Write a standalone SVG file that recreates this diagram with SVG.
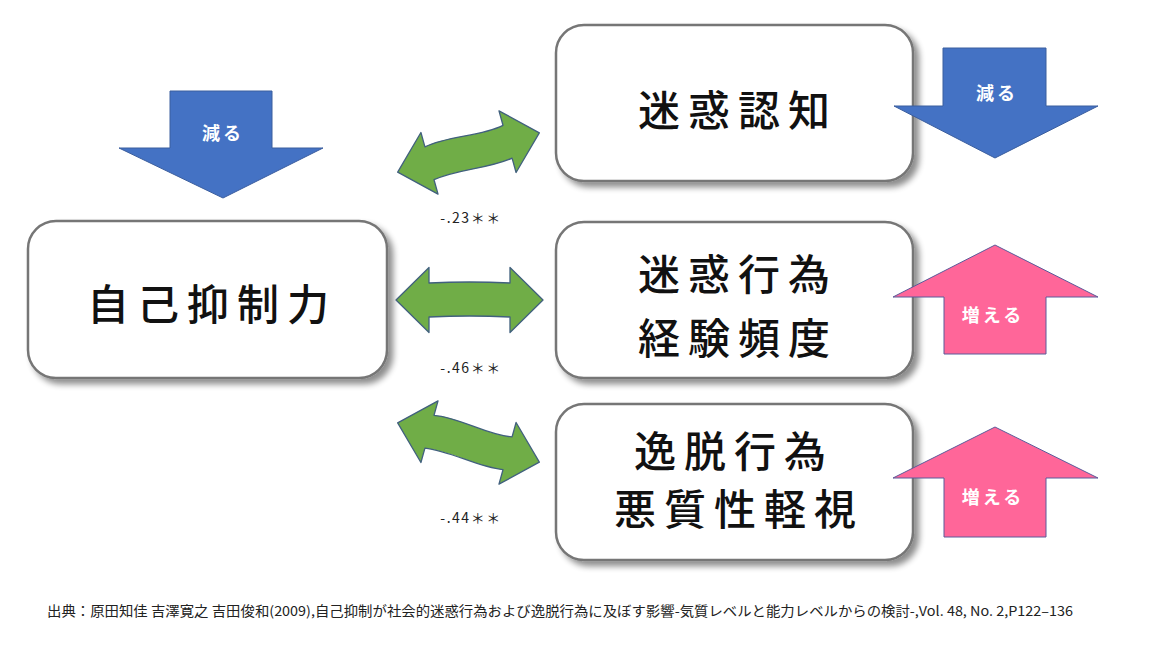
<svg xmlns="http://www.w3.org/2000/svg" width="1154" height="651" viewBox="0 0 1154 651">
<defs>
  <filter id="shadow" x="-10%" y="-10%" width="125%" height="130%">
    <feGaussianBlur in="SourceAlpha" stdDeviation="3"/>
    <feOffset dx="5" dy="5" result="b"/>
    <feComponentTransfer><feFuncA type="linear" slope="0.45"/></feComponentTransfer>
    <feMerge><feMergeNode/><feMergeNode in="SourceGraphic"/></feMerge>
  </filter>
  <path id="dbl-straight" d="M -73.5 0 L -40.5 -32.5 L -40.5 -17 Q 0 -19 40.5 -17 L 40.5 -32.5 L 73.5 0 L 40.5 32.5 L 40.5 17 Q 0 15 -40.5 17 L -40.5 32.5 Z"/>
  <path id="dbl-curved" d="M -73.5 0 L -40.5 -32 L -40.5 -17 C -15 -22 15 -12 40.5 -17 L 40.5 -32 L 73.5 0 L 40.5 32 L 40.5 17 C 15 21 -15 13 -40.5 17 L -40.5 32 Z"/>
</defs>
<style>
  .box { fill: #ffffff; stroke: #767676; stroke-width: 2.5; filter: url(#shadow); }
  .big { font-family: "Noto Sans CJK JP", "Noto Sans", sans-serif; font-size: 42px; font-weight: 500; fill: #111111; text-anchor: middle; letter-spacing: 8px; }
  .green { fill: #70AD47; stroke: #41607E; stroke-width: 1.3; stroke-linejoin: round; }
  .blue { fill: #4472C4; stroke: #3B5E9E; stroke-width: 1; }
  .pink { fill: #FF6699; stroke: #5B5B9A; stroke-width: 1; }
  .arrlbl { font-family: "Noto Sans CJK JP", sans-serif; font-size: 18px; font-weight: bold; fill: #ffffff; text-anchor: middle; letter-spacing: 3px; }
  .coef { font-family: "Noto Sans CJK JP", "DejaVu Sans", sans-serif; font-size: 14px; fill: #222222; text-anchor: middle; letter-spacing: 1.5px; }
  .note { font-family: "Noto Sans CJK JP", sans-serif; font-size: 13.5px; fill: #222222; }
</style>

<g id="node-self-control">
  <rect class="box" x="28" y="221" width="359" height="157" rx="28" ry="28"/>
  <text class="big" x="212" y="320">自己抑制力</text>
</g>

<g id="node-meiwaku-ninchi">
  <rect class="box" x="556" y="25" width="357" height="156" rx="28" ry="28"/>
  <text class="big" x="738" y="126">迷惑認知</text>
</g>

<g id="node-meiwaku-koui">
  <rect class="box" x="556" y="222" width="357" height="156" rx="28" ry="28"/>
  <text class="big" x="738" y="290">迷惑行為</text>
  <text class="big" x="738" y="354">経験頻度</text>
</g>

<g id="node-itsudatsu">
  <rect class="box" x="556" y="404" width="357" height="156" rx="28" ry="28"/>
  <text class="big" x="734" y="467">逸脱行為</text>
  <text class="big" x="739" y="525">悪質性軽視</text>
</g>

<g id="arrow-left-decrease">
  <path class="blue" d="M 170 91 L 272 91 L 272 148 L 323 148 L 223 198 L 119 148 L 170 148 Z"/>
  <text class="arrlbl" x="223" y="140">減る</text>
</g>

<g id="arrow-right-decrease">
  <path class="blue" d="M 943 48 L 1046 48 L 1046 106 L 1098 106 L 995 158 L 894 106 L 943 106 Z"/>
  <text class="arrlbl" x="997" y="100">減る</text>
</g>

<g id="arrow-increase-1">
  <path class="pink" d="M 995 245 L 1098 297 L 1046 297 L 1046 354 L 944 354 L 944 297 L 893 297 Z"/>
  <text class="arrlbl" x="993" y="322">増える</text>
</g>

<g id="arrow-increase-2">
  <path class="pink" d="M 995 427 L 1098 478 L 1046 478 L 1046 537 L 944 537 L 944 478 L 893 478 Z"/>
  <text class="arrlbl" x="993" y="504">増える</text>
</g>

<g id="connectors">
  <use href="#dbl-curved" class="green" transform="translate(468.5,152.5) rotate(-15.5)"/>
  <use href="#dbl-straight" class="green" transform="translate(469.5,300)"/>
  <use href="#dbl-curved" class="green" transform="translate(468.5,442.5) rotate(15.5)"/>
  <text class="coef" x="471" y="223">-.23＊＊</text>
  <text class="coef" x="471" y="373">-.46＊＊</text>
  <text class="coef" x="471" y="523">-.44＊＊</text>
</g>

<g id="footnote">
  <text class="note" x="47" y="616" textLength="1026" lengthAdjust="spacingAndGlyphs">出典：原田知佳 吉澤寛之 吉田俊和(2009),自己抑制が社会的迷惑行為および逸脱行為に及ぼす影響-気質レベルと能力レベルからの検討-,Vol. 48, No. 2,P122–136</text>
</g>
</svg>
